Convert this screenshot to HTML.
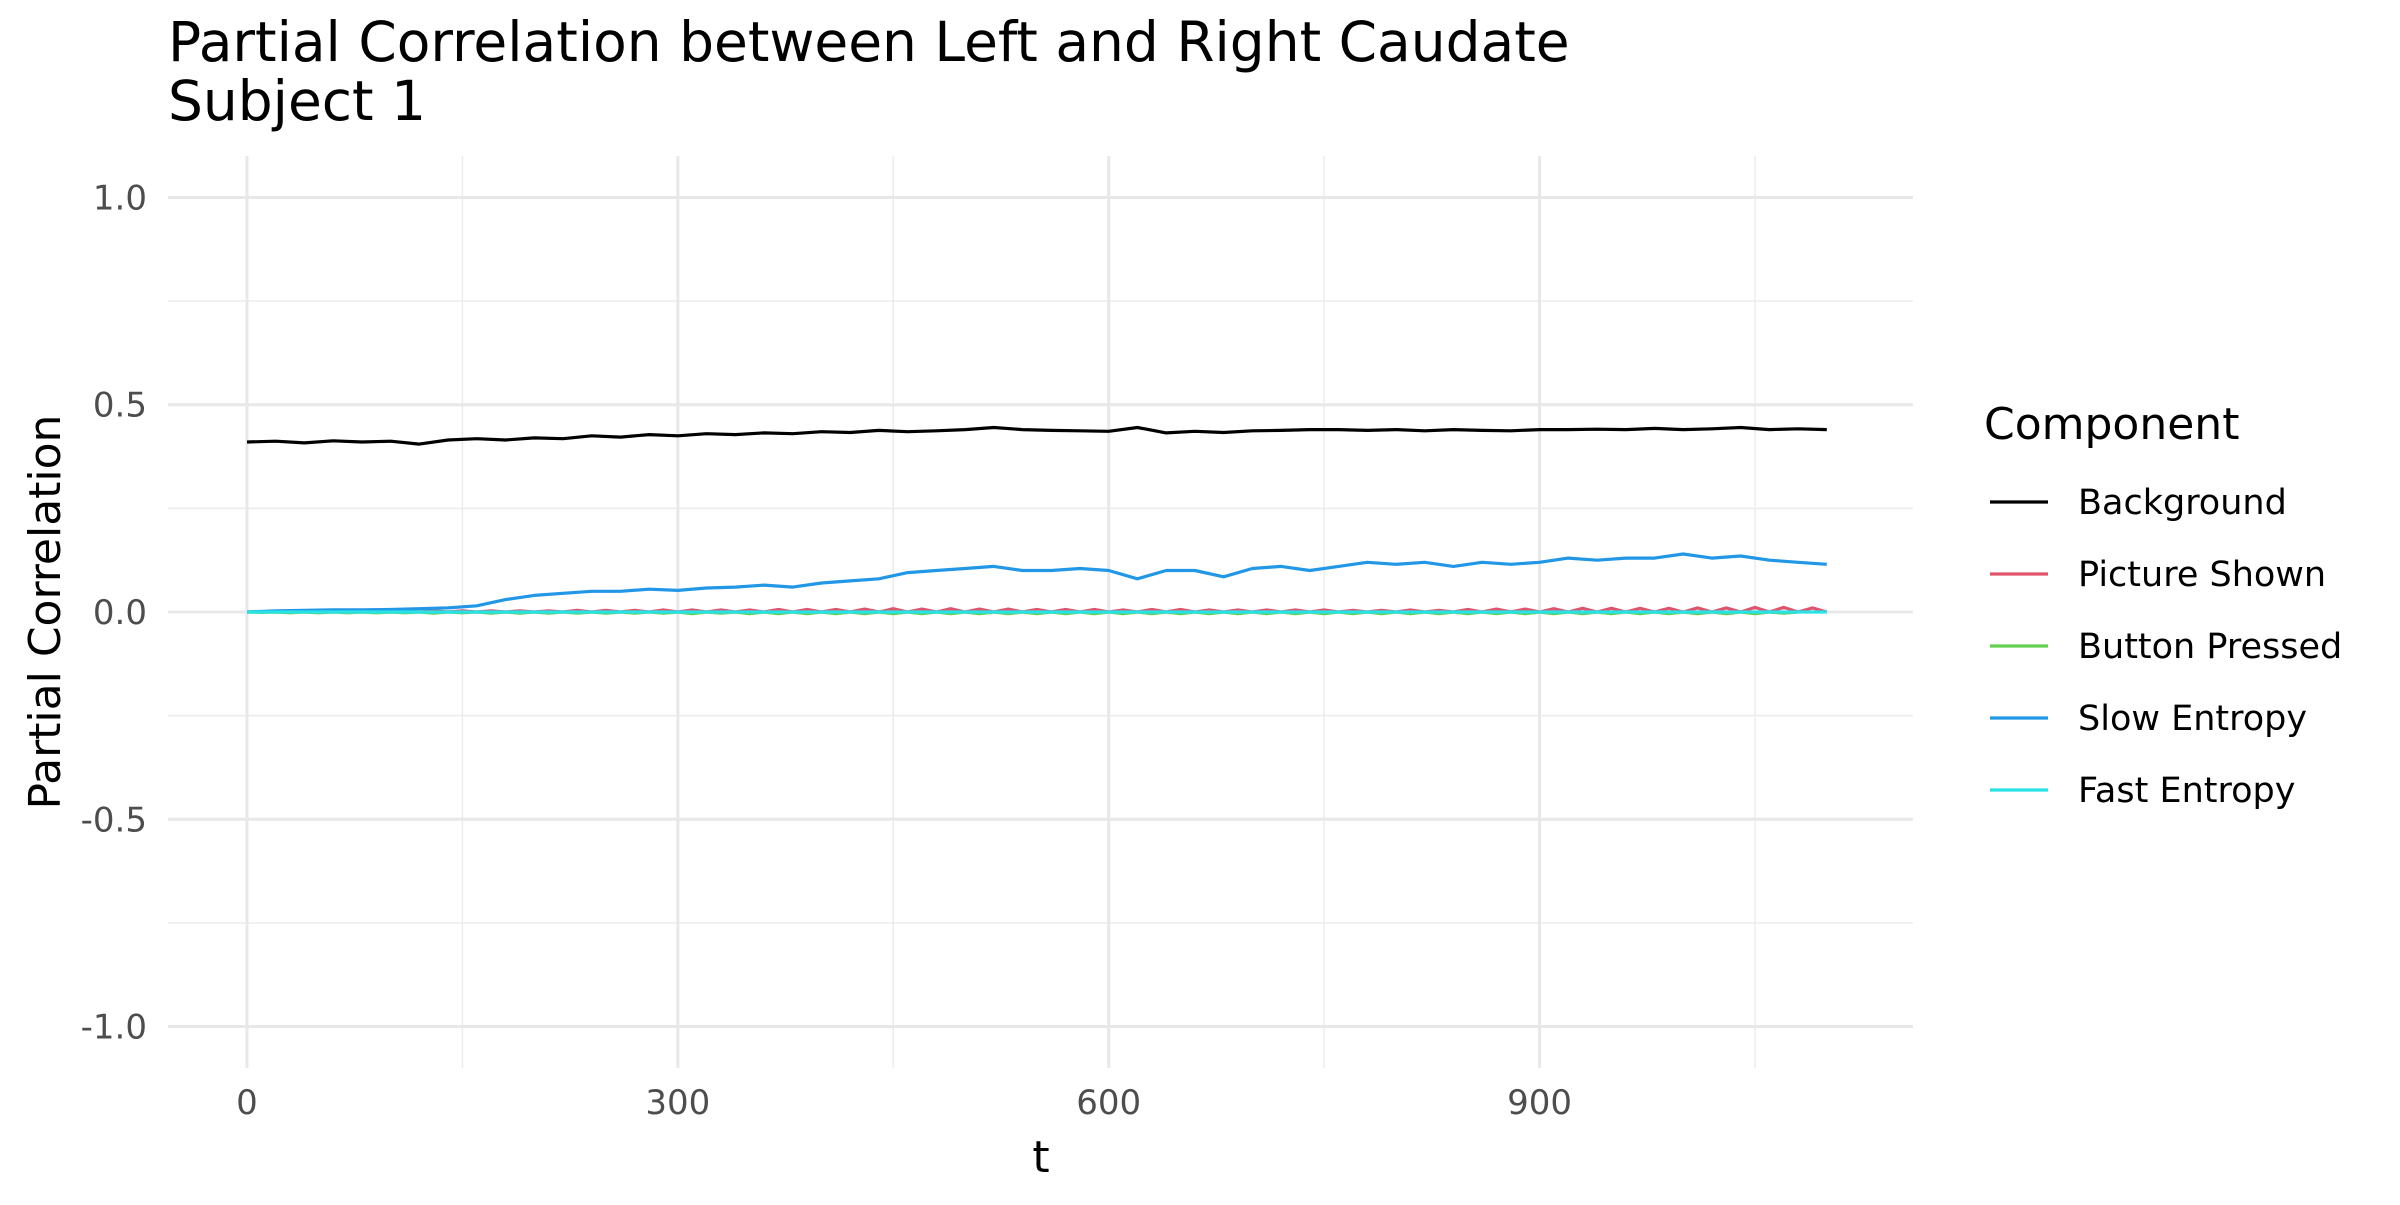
<!DOCTYPE html>
<html><head><meta charset="utf-8"><style>
body{margin:0;background:#fff;}
svg text{font-family:"DejaVu Sans","Liberation Sans",sans-serif;}
</style></head><body>
<svg id="chart" width="2400" height="1200" viewBox="0 0 2400 1200">
<text x="168" y="61" font-size="55" fill="#000">Partial Correlation between Left and Right Caudate</text>
<text x="168" y="120" font-size="55" fill="#000">Subject 1</text>
<g id="grid"></g>
<g id="series"></g>
<g id="ticks"></g>
<text x="1041" y="1172" font-size="44" text-anchor="middle">t</text>
<text transform="translate(60,612) rotate(-90)" font-size="44" text-anchor="middle">Partial Correlation</text>
<g id="legend">
<text x="1984" y="439" font-size="44">Component</text>
</g>
</svg>
<script>
const xTicks=[0,300,600,900];
const xMinor=[150,450,750,1050];
const yTicks=[-1,-0.5,0,0.5,1];
const yTickLabels=["-1.0","-0.5","0.0","0.5","1.0"];
const yMinor=[-0.75,-0.25,0.25,0.75];
const components=["Background","Picture Shown","Button Pressed","Slow Entropy","Fast Entropy"];
const colors=["#000000","#DF536B","#61D04F","#2297E6","#28E2E5"];
const tBg=[0,20,40,60,80,100,120,140,160,180,200,220,240,260,280,300,320,340,360,380,400,420,440,460,480,500,520,540,560,580,600,620,640,660,680,700,720,740,760,780,800,820,840,860,880,900,920,940,960,980,1000,1020,1040,1060,1080,1100];
const background=[0.41,0.412,0.408,0.413,0.41,0.412,0.405,0.415,0.418,0.415,0.42,0.418,0.425,0.422,0.428,0.425,0.43,0.428,0.432,0.43,0.435,0.433,0.438,0.435,0.437,0.44,0.445,0.44,0.438,0.437,0.436,0.445,0.432,0.436,0.433,0.437,0.438,0.44,0.44,0.438,0.44,0.437,0.44,0.438,0.437,0.44,0.44,0.441,0.44,0.443,0.44,0.442,0.445,0.44,0.442,0.44];
const slowEntropy=[0.0,0.003,0.004,0.005,0.005,0.006,0.008,0.01,0.015,0.03,0.04,0.045,0.05,0.05,0.055,0.052,0.058,0.06,0.065,0.06,0.07,0.075,0.08,0.095,0.1,0.105,0.11,0.1,0.1,0.105,0.1,0.08,0.1,0.1,0.085,0.105,0.11,0.1,0.11,0.12,0.115,0.12,0.11,0.12,0.115,0.12,0.13,0.125,0.13,0.13,0.14,0.13,0.135,0.125,0.12,0.115];
const tSmall=[0,10,20,30,40,50,60,70,80,90,100,110,120,130,140,150,160,170,180,190,200,210,220,230,240,250,260,270,280,290,300,310,320,330,340,350,360,370,380,390,400,410,420,430,440,450,460,470,480,490,500,510,520,530,540,550,560,570,580,590,600,610,620,630,640,650,660,670,680,690,700,710,720,730,740,750,760,770,780,790,800,810,820,830,840,850,860,870,880,890,900,910,920,930,940,950,960,970,980,990,1000,1010,1020,1030,1040,1050,1060,1070,1080,1090,1100];
const pictureShown=[0,0.001,0,0.002,0,0.002,0,0.002,0,0.002,0,0.003,0,0.003,0,0.003,0,0.003,0,0.003,0,0.003,0,0.004,0,0.004,0,0.004,0,0.005,0,0.005,0,0.005,0,0.005,0,0.006,0,0.006,0,0.006,0,0.007,0,0.008,0,0.007,0,0.008,0,0.007,0,0.007,0,0.006,0,0.006,0,0.006,0,0.005,0,0.006,0,0.006,0,0.005,0,0.005,0,0.005,0,0.005,0,0.005,0,0.004,0,0.004,0,0.005,0,0.004,0,0.006,0,0.007,0,0.007,0,0.008,0,0.009,0,0.009,0,0.009,0,0.009,0,0.01,0,0.01,0,0.011,0,0.011,0,0.01,0,0.009,0];
const buttonPressed=[0,-0.001,0,-0.002,0,-0.002,0,-0.002,0,-0.002,0,-0.002,0,-0.003,0,-0.002,0,-0.003,0,-0.003,0,-0.003,0,-0.003,0,-0.003,0,-0.003,0,-0.003,0,-0.004,0,-0.003,0,-0.004,0,-0.004,0,-0.004,0,-0.004,0,-0.004,0,-0.004,0,-0.004,0,-0.004,0,-0.004,0,-0.004,0,-0.004,0,-0.004,0,-0.004,0,-0.004,0,-0.004,0,-0.004,0,-0.004,0,-0.004,0,-0.004,0,-0.004,0,-0.004,0,-0.004,0,-0.004,0,-0.004,0,-0.004,0,-0.004,0,-0.004,0,-0.004,0,-0.004,0,-0.004,0,-0.004,0,-0.004,0,-0.004,0,-0.004,0,-0.004,0,-0.004,0,-0.003,0];
const fastEntropy=[0,0,0,0,0,0,0,0,0,0,0,0,0,0,0,0,0,0,0,0,0,0,0,0,0,0,0,0,0,0,0,0,0,0,0,0,0,0,0,0,0,0,0,0,0,0,0,0,0,0,0,0,0,0,0,0,0,0,0,0,0,0,0,0,0,0,0,0,0,0,0,0,0,0,0,0,0,0,0,0,0,0,0,0,0,0,0,0,0,0,0,0,0,0,0,0,0,0,0,0,0,0,0,0,0,0,0,0,0,0,0];

const NS="http://www.w3.org/2000/svg";
const PL=168,PR=1913,PT=156,PB=1068;
const X0=-55,X1=1160,Y0=-1.1,Y1=1.1;
function sx(v){return PL+(v-X0)/(X1-X0)*(PR-PL);}
function sy(v){return PB-(v-Y0)/(Y1-Y0)*(PB-PT);}
function mk(tag,attrs,parent){const e=document.createElementNS(NS,tag);for(const k in attrs)e.setAttribute(k,attrs[k]);parent.appendChild(e);return e;}
const grid=document.getElementById('grid'),ticks=document.getElementById('ticks'),series=document.getElementById('series'),legend=document.getElementById('legend');
yMinor.forEach(v=>{const l=mk('line',{x1:PL,x2:PR,y1:sy(v),y2:sy(v),stroke:'#ebebeb','stroke-width':1.4},grid);

});
xMinor.forEach(v=>{const l=mk('line',{x1:sx(v),x2:sx(v),y1:PT,y2:PB,stroke:'#ebebeb','stroke-width':1.4},grid);

});
yTicks.forEach((v,i)=>{const l=mk('line',{x1:PL,x2:PR,y1:sy(v),y2:sy(v),stroke:'#e8e8e8','stroke-width':3},grid);


const t=mk('text',{x:147,y:sy(v)+12,'font-size':34,'text-anchor':'end',fill:'#4d4d4d'},ticks);t.textContent=yTickLabels[i];

});
xTicks.forEach(v=>{const l=mk('line',{x1:sx(v),x2:sx(v),y1:PT,y2:PB,stroke:'#e8e8e8','stroke-width':3},grid);


const t=mk('text',{x:sx(v),y:1114,'font-size':34,'text-anchor':'middle',fill:'#4d4d4d'},ticks);t.textContent=String(v);

});
function path(ts,vs){return ts.map((t,i)=>(i?'L':'M')+sx(t).toFixed(1)+' '+sy(vs[i]).toFixed(1)).join(' ');}
const data=[[tBg,background],[tSmall,pictureShown],[tSmall,buttonPressed],[tBg,slowEntropy],[tSmall,fastEntropy]];
const names=['line-background','line-picture-shown','line-button-pressed','line-slow-entropy','line-fast-entropy'];
data.forEach((d,i)=>{const p=mk('path',{d:path(d[0],d[1]),fill:'none',stroke:colors[i],'stroke-width':3.2,'stroke-linejoin':'round'},series);

});
components.forEach((c,i)=>{const y=502+i*72;
const l=mk('line',{x1:1990,x2:2048,y1:y,y2:y,stroke:colors[i],'stroke-width':3.2},legend);


const t=mk('text',{x:2078,y:y+12,'font-size':35,fill:'#000'},legend);t.textContent=c;

});
</script>
</body></html>
